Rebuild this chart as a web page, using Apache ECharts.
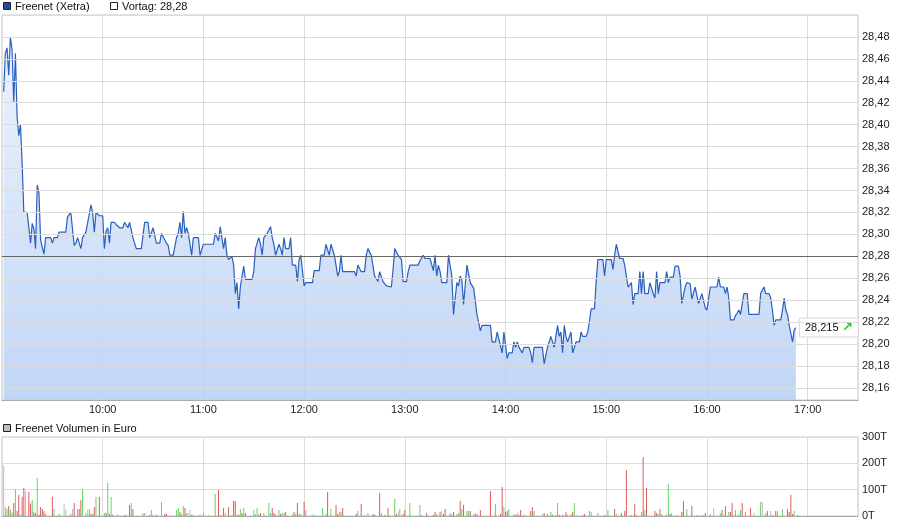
<!DOCTYPE html>
<html><head><meta charset="utf-8">
<script src="https://cdn.jsdelivr.net/npm/echarts@6/dist/echarts.min.js"></script>
<style>html,body{margin:0;padding:0;background:#fff}#c{width:900px;height:526px}</style>
</head><body><div id="c"></div>
<script>
// minutes after 09:00 (Xetra open) and price in EUR
const priceMinute = [1,2,3,4,5,6,7,8,9,10,11,12,13,15,17,18,19,20,21,22,23,25,26,29,30,31,33,34,38,39,40,41,42,43,44,45,47,48,50,51,53,54,55,56,57,58,60,61,62,63,64,65,67,68,70,72,73,74,75,76,78,79,80,83,85,87,88,90,91,92,94,
95,96,98,99,100,102,104,105,106,107,108,109,110,111,112,113,114,117,118,119,120,126,127,128,129,130,131,132,133,134,135,136,137,138,139,140,141,142,143,144,145,149,150,151,153,154,155,156,157,158,160,161,162,163,164,165,166,167,168,169,171,172,173,175,176,177,178,179,180,181,185,186,189,
190,192,193,194,195,196,197,198,199,200,201,202,203,210,211,212,213,214,216,217,218,219,220,221,222,223,224,225,226,227,228,229,230,232,233,234,235,236,237,238,239,241,242,243,248,249,250,251,252,255,256,257,258,259,260,261,262,265,266,268,269,270,271,272,273,274,275,277,278,279,280,281,282,283,284,
285,286,291,292,294,295,296,298,299,301,302,304,305,306,307,308,309,310,311,314,315,316,317,322,323,324,325,326,327,328,329,330,331,332,333,334,335,336,337,338,339,340,341,342,344,345,346,348,349,350,351,353,354,355,358,359,360,363,364,365,366,367,368,370,371,372,373,374,375,376,377,379,
380,381,382,383,385,386,387,388,389,390,391,392,395,396,397,398,400,401,403,404,405,406,407,408,410,411,412,413,414,415,416,417,418,419,420,421,422,426,427,428,430,431,432,433,434,436,437,438,439,440,441,442,444,445,451,452,453,454,455,457,458,459,460,461,464,465,466,467,468,469,470,471,472,473];
const priceValue = [28.430,28.465,28.470,28.445,28.480,28.468,28.421,28.465,28.407,28.390,28.400,28.365,28.320,28.320,28.292,28.310,28.305,28.287,28.345,28.338,28.295,28.282,28.297,28.297,28.292,28.297,28.297,28.302,28.302,28.316,28.316,28.320,28.320,28.290,28.292,28.297,28.287,28.297,28.302,28.302,28.327,28.320,28.302,28.320,28.320,28.317,28.317,28.287,28.303,28.306,28.292,28.311,28.311,28.309,28.306,28.306,28.311,28.311,28.306,28.311,28.297,28.297,28.287,28.287,28.311,28.311,28.297,28.306,28.306,28.292,28.292,
28.301,28.300,28.292,28.290,28.281,28.281,28.297,28.301,28.311,28.297,28.321,28.301,28.306,28.301,28.301,28.281,28.297,28.297,28.281,28.281,28.291,28.291,28.301,28.301,28.294,28.307,28.307,28.287,28.297,28.281,28.277,28.277,28.280,28.272,28.246,28.256,28.232,28.252,28.253,28.271,28.259,28.259,28.266,28.287,28.297,28.291,28.281,28.297,28.297,28.301,28.307,28.297,28.291,28.281,28.281,28.291,28.287,28.281,28.297,28.287,28.287,28.297,28.272,28.272,28.257,28.277,28.281,28.281,28.253,28.256,28.256,28.267,28.267,
28.281,28.281,28.291,28.291,28.281,28.291,28.291,28.281,28.272,28.262,28.266,28.281,28.266,28.266,28.262,28.272,28.272,28.266,28.266,28.281,28.287,28.287,28.281,28.281,28.262,28.262,28.257,28.266,28.266,28.257,28.256,28.253,28.252,28.252,28.268,28.287,28.287,28.281,28.281,28.277,28.257,28.257,28.266,28.272,28.272,28.276,28.277,28.281,28.278,28.278,28.277,28.267,28.281,28.262,28.272,28.266,28.256,28.256,28.281,28.262,28.227,28.242,28.256,28.253,28.262,28.258,28.236,28.272,28.271,28.256,28.256,28.251,28.252,28.227,28.227,
28.212,28.217,28.217,28.202,28.202,28.211,28.211,28.192,28.211,28.187,28.192,28.192,28.202,28.197,28.202,28.197,28.197,28.192,28.197,28.197,28.192,28.183,28.197,28.197,28.182,28.182,28.197,28.197,28.207,28.207,28.197,28.207,28.217,28.207,28.211,28.192,28.217,28.207,28.202,28.202,28.211,28.192,28.192,28.202,28.202,28.211,28.207,28.207,28.211,28.221,28.232,28.232,28.257,28.277,28.277,28.262,28.277,28.277,28.268,28.281,28.291,28.291,28.278,28.278,28.272,28.272,28.252,28.252,28.256,28.236,28.246,28.246,
28.266,28.246,28.266,28.246,28.246,28.256,28.256,28.246,28.242,28.266,28.246,28.256,28.256,28.266,28.256,28.261,28.261,28.271,28.271,28.262,28.237,28.237,28.252,28.256,28.255,28.241,28.241,28.252,28.252,28.237,28.237,28.246,28.246,28.233,28.231,28.231,28.252,28.252,28.261,28.252,28.252,28.246,28.252,28.242,28.222,28.222,28.226,28.228,28.231,28.227,28.227,28.246,28.246,28.227,28.227,28.246,28.246,28.252,28.246,28.246,28.242,28.231,28.217,28.222,28.222,28.231,28.242,28.231,28.227,28.217,28.217,28.202,28.213,28.215];
const prevClose = 28.28;

// volume: minute after 09:00, value in thousand EUR (T), direction g=up r=down n=unchanged
const volMinute = [1,2,3,4,5,6,7,8,9,10,11,12,13,14,16,17,18,19,20,21,22,23,24,25,26,30,31,34,37,38,39,41,42,43,45,46,47,48,50,51,52,53,54,55,56,58,61,62,63,64,65,66,69,73,74,76,77,78,80,84,85,88,89,90,92,95,97,98,100,104,105,106,107,108,109,110,111,112,113,114,118,120,123,127,129,130,132,133,135,137,138,139,140,141,142,143,144,145,150,151,152,153,154,156,159,160,161,162,163,165,166,167,168,169,173,174,175,176,177,178,180,181,185,186,191,193,194,196,199,200,201,202,203,211,212,214,216,218,221,222,225,226,228,230,234,235,236,237,239,240,243,249,250,253,257,258,259,261,262,263,264,267,
268,269,271,272,273,274,275,277,278,279,281,282,283,285,291,294,297,298,299,300,301,302,305,306,307,308,309,311,315,316,317,322,323,325,327,328,330,331,332,334,336,337,339,340,341,343,346,347,350,351,355,359,361,362,365,366,369,371,372,375,377,378,381,382,383,384,389,390,391,392,393,396,397,398,399,402,405,406,408,411,414,415,418,419,422,424,428,429,430,431,433,434,435,436,437,439,440,441,443,446,448,452,453,455,456,458,459,461,462,465,468,469,470,471,472,474];
const volValue = [191,33,27,38,25,13,49,103,19,80,5,73,106,95,91,47,61,15,11,144,5,34,27,19,9,73,27,9,46,23,1,9,27,49,27,27,61,103,11,23,27,9,9,34,72,72,11,11,125,8,72,5,5,4,5,42,49,27,1,11,11,4,23,5,5,53,9,8,1,23,30,15,8,38,30,11,11,23,5,5,5,11,5,84,99,5,30,11,34,5,57,57,5,5,27,11,30,11,23,8,30,5,11,11,49,11,30,11,5,23,8,11,11,15,5,15,9,49,8,8,53,23,5,5,30,8,91,27,42,8,15,15,30,8,19,46,4,11,8,5,87,11,4,30,65,8,15,27,8,23,49,42,4,11,4,15,8,15,19,8,27,11,
5,15,8,11,57,27,42,19,19,19,8,11,8,23,95,46,8,110,34,15,19,27,8,4,11,4,23,5,19,34,19,8,11,8,15,5,5,49,5,5,15,4,8,15,49,5,5,8,19,15,11,4,23,4,27,8,11,19,175,4,46,4,15,224,23,106,19,11,8,27,8,8,122,8,11,4,15,57,27,38,4,1,4,11,8,30,11,23,4,38,15,15,49,4,23,8,23,49,15,30,11,53,53,11,19,19,4,19,19,27,27,15,80,8,19,4];
const volDir = ['n','g','g','r','g','g','r','g','r','r','g','r','r','n','r','r','g','r','r','g','r','r','r','r','g','r','g','g','n','n','n','g','n','r','g','r','r','g','g','n','g','r','g','r','g','r','g','r','g','r','g','r','r','g','g','r','g','r','n','g','g','r','g','g','r','g','r','r','r','g','g','r','g','g','r','g','n','n','r','g','r','g','n','g','r','g','r','g','r','g','r','r','g','r','g','r','g','r','g','g','g','r','r','g','g','g','r','r','r','g','r','g','g','r','g','r','g','r','g','g','r','g','n','g','g','g','r','g','r','r','g','g','r','r','g','r','g','g','r','r','r','g','r','r','g','r','n','g','r','r','g','g','g','r','r','r','g','r','n','r','r','g',
'r','r','g','g','r','g','r','g','g','r','g','g','r','r','r','g','r','r','g','r','r','g','g','r','g','r','r','g','r','r','g','n','r','g','g','r','g','g','r','r','r','g','g','r','g','n','g','r','g','g','g','r','g','n','r','g','r','r','r','g','r','g','g','r','g','r','r','r','g','r','g','n','g','r','g','g','r','r','g','r','g','r','g','r','g','n','g','r','n','r','g','r','r','n','g','g','g','r','g','r','n','g','n','g','r','n','r','r','g','g','r','r','r','r','g','g'];

const timeTicks = ['10:00','11:00','12:00','13:00','14:00','15:00','16:00','17:00'];
const priceTicks = [28.16,28.18,28.20,28.22,28.24,28.26,28.28,28.30,28.32,28.34,28.36,28.38,28.40,28.42,28.44,28.46,28.48];
const volTicks = [0,100,200,300];

const FONT = '"Liberation Sans", Arial, sans-serif';
const dirColor = {g:'#5fd75f', r:'#e05a5a', n:'#bdbdbd'};
const toMin = s => { const p = s.split(':'); return (+p[0]-9)*60 + (+p[1]); };
const fmtMin = m => { const h = 9 + Math.floor(m/60), mm = Math.round(m%60); return h + ':' + (mm<10?'0':'') + mm; };
const fmtPrice = (v, d) => v.toFixed(d).replace('.', ',');

const priceData = priceMinute.map((m,i) => [m, priceValue[i]]);
const volData = volMinute.map((m,i) => ({value:[m, volValue[i]], itemStyle:{color: dirColor[volDir[i]]}}));
const lastDec = String(priceValue[priceValue.length-1]).split('.')[1].length;

const chart = echarts.init(document.getElementById('c'), null, {renderer:'canvas'});
const gridLine = {show:true, lineStyle:{color:'#dcdcdc', width:1}};
chart.setOption({
  animation:false,
  textStyle:{fontFamily:FONT},
  grid:[
    {left:2, right:42, top:15, bottom:126, show:true, borderColor:'#c8c8c8', borderWidth:1, backgroundColor:'transparent'},
    {left:2, right:42, top:437, bottom:10, show:true, borderColor:'#c8c8c8', borderWidth:1, backgroundColor:'transparent'}
  ],
  xAxis:[
    {type:'value', gridIndex:0, min:0, max:510, interval:60,
     axisLine:{show:true, onZero:false, lineStyle:{color:'#aaaaaa'}}, axisTick:{show:false},
     axisLabel:{show:true, customValues: timeTicks.map(toMin), formatter:v=>fmtMin(v), color:'#222', fontSize:11, fontFamily:FONT, margin:4},
     splitLine:gridLine},
    {type:'value', gridIndex:1, min:0, max:510, interval:60,
     axisLine:{show:true, onZero:false, lineStyle:{color:'#aaaaaa'}}, axisTick:{show:false},
     axisLabel:{show:false}, splitLine:gridLine}
  ],
  yAxis:[
    {type:'value', gridIndex:0, position:'right', min:28.149, max:28.50,
     axisLine:{show:false}, axisTick:{show:false},
     axisLabel:{show:true, customValues: priceTicks, formatter:v=>fmtPrice(v,2), color:'#222', fontSize:11, fontFamily:FONT, margin:4},
     splitLine:{show:false}},
    {type:'value', gridIndex:1, position:'right', min:0, max:300, interval:100,
     axisLine:{show:false}, axisTick:{show:false},
     axisLabel:{show:true, formatter:v=>v+'T', color:'#222', fontSize:11, fontFamily:FONT, margin:4},
     splitLine:gridLine}
  ],
  series:[
    {type:'line', xAxisIndex:0, yAxisIndex:0, data:[], z:1, silent:true,
     markLine:{silent:true, symbol:'none', label:{show:false}, animation:false,
       lineStyle:{color:'#dcdcdc', width:1, type:'solid'},
       data: priceTicks.concat([28.50]).map(v => ({yAxis:v}))}},
    {type:'line', xAxisIndex:0, yAxisIndex:0, data:priceData, z:3, showSymbol:false, symbol:'none',
     lineStyle:{color:'#2a5fc0', width:1.2}, smooth:false,
     areaStyle:{origin:'start', opacity:0.85, color:new echarts.graphic.LinearGradient(0,0,0,1,[{offset:0,color:'#eaf1fd'},{offset:1,color:'#b6cff5'}])},
     endLabel:{show:true, distance:4, formatter:p=>'{v|'+fmtPrice(p.value[1],lastDec)+'} {a|↗}',
       backgroundColor:'#ffffff', borderColor:'#d8d8d8', borderWidth:1, padding:[3,5,2,5],
       rich:{v:{fontSize:11, fontFamily:FONT, color:'#111'}, a:{fontSize:13, fontWeight:'bold', color:'#1ec81e', fontFamily:'DejaVu Sans'}}},
     markLine:{silent:true, symbol:'none', label:{show:false}, animation:false,
       lineStyle:{color:'#666666', width:1, type:'solid'}, data:[{yAxis:prevClose}]}},
    {type:'bar', xAxisIndex:1, yAxisIndex:1, data:volData, barWidth:1, z:3, silent:true}
  ],
  graphic:[
    {type:'rect', shape:{x:3.5, y:2.5, width:7, height:7}, style:{fill:'#1d4fa5', stroke:'#222', lineWidth:1}},
    {type:'text', x:15, y:1, style:{text:'Freenet (Xetra)', font:'11px '+FONT, fill:'#111'}},
    {type:'rect', shape:{x:110.5, y:2.5, width:7, height:7}, style:{fill:'#ffffff', stroke:'#222', lineWidth:1}},
    {type:'text', x:122, y:1, style:{text:'Vortag: '+fmtPrice(prevClose,2), font:'11px '+FONT, fill:'#111'}},
    {type:'rect', shape:{x:3.5, y:424.5, width:7, height:7}, style:{fill:'#bdbdbd', stroke:'#222', lineWidth:1}},
    {type:'text', x:15, y:423, style:{text:'Freenet Volumen in Euro', font:'11px '+FONT, fill:'#111'}}
  ]
});
</script></body></html>
